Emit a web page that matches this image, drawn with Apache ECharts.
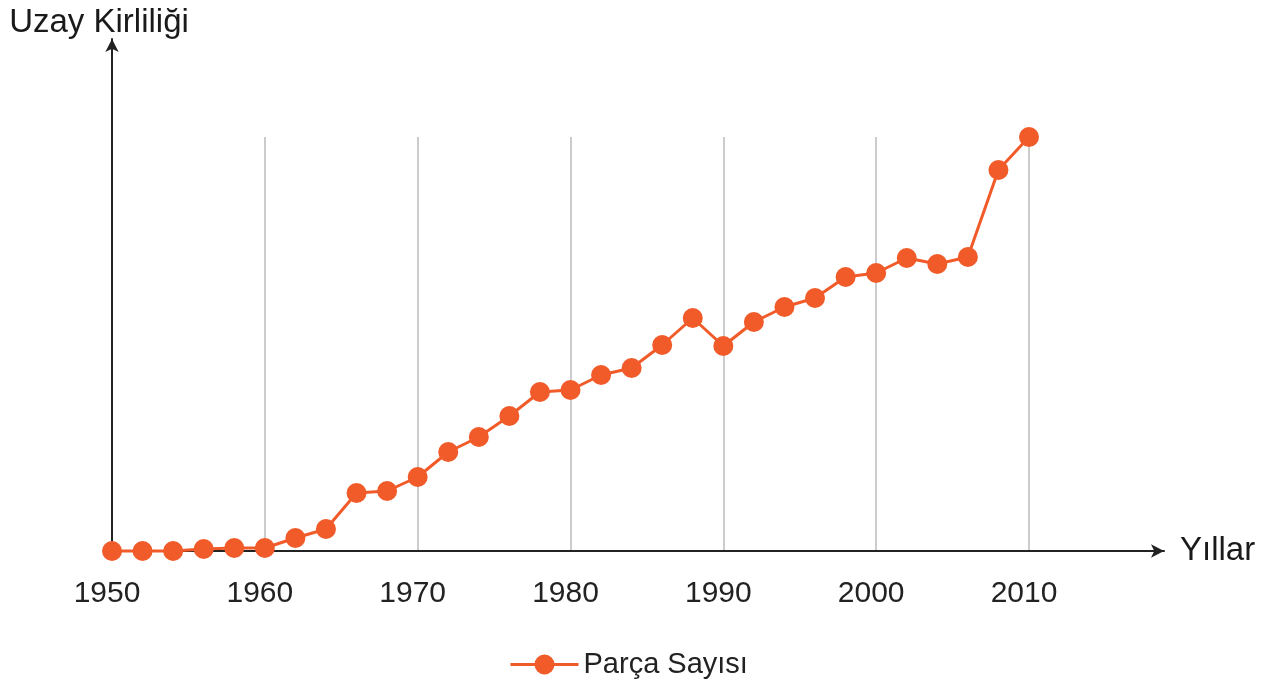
<!DOCTYPE html>
<html>
<head>
<meta charset="utf-8">
<title>Uzay Kirliliği</title>
<script src="https://cdn.jsdelivr.net/npm/echarts@6/dist/echarts.min.js"></script>
<style>
  html, body { margin: 0; padding: 0; background: #fff; }
  #chart { width: 1267px; height: 682px; }
</style>
</head>
<body>
<div id="chart"></div>
<script>
// yillar (2 yilda bir)
const years = [1950, 1952, 1954, 1956, 1958, 1960, 1962, 1964, 1966, 1968,
  1970, 1972, 1974, 1976, 1978, 1980, 1982, 1984, 1986, 1988,
  1990, 1992, 1994, 1996, 1998, 2000, 2002, 2004, 2006, 2008, 2010]
// parca sayisi (olceksiz)
const pieces = [0, 0, 0, 2, 3, 3, 13, 22, 58, 60,
  74, 99, 114, 135, 159, 161, 176, 183, 206, 233,
  205, 229, 244, 253, 274, 278, 293, 287, 294, 381, 414]
const seriesName = 'Parça Sayısı'
const yName = 'Uzay Kirliliği'
const xName = 'Yıllar'

const chart = echarts.init(document.getElementById('chart'))
const orange = '#f15a29'
const font = "'Liberation Sans', Arial, sans-serif"

chart.setOption({
  animation: false,
  textStyle: { fontFamily: font },
  legend: {
    data: [seriesName],
    left: 504,
    top: 645,
    itemWidth: 68,
    itemHeight: 25,
    itemGap: 5,
    lineStyle: { width: 3 },
    textStyle: { fontSize: 29, color: '#222', fontFamily: font }
  },
  grid: [
    // axes with arrows
    { left: 112, right: 103, top: 39, bottom: 131 },
    // plot area
    { left: 112, right: 238, top: 137, bottom: 131 }
  ],
  xAxis: [
    {
      gridIndex: 0,
      type: 'value',
      min: 0,
      max: 1,
      name: xName,
      nameLocation: 'end',
      nameGap: 16,
      nameTextStyle: { fontSize: 33, color: '#1a1a1a', fontFamily: font },
      axisLine: {
        show: true,
        symbol: ['none', 'arrow'],
        symbolSize: [10, 13],
        lineStyle: { color: '#222', width: 2 }
      },
      axisTick: { show: false },
      axisLabel: { show: false },
      splitLine: { show: false }
    },
    {
      gridIndex: 1,
      type: 'value',
      min: 1950,
      max: 2010,
      interval: 10,
      axisLine: { show: false },
      axisTick: { show: false },
      axisLabel: {
        margin: 28,
        fontSize: 30,
        color: '#222',
        fontFamily: font,
        padding: [0, 10, 0, 0],
        formatter: v => String(v)
      },
      splitLine: {
        show: true,
        showMinLine: false,
        lineStyle: { color: '#cccccc', width: 2 }
      }
    }
  ],
  yAxis: [
    {
      gridIndex: 0,
      type: 'value',
      min: 0,
      max: 1,
      name: yName,
      nameLocation: 'end',
      nameGap: 0,
      nameTextStyle: { fontSize: 33, color: '#1a1a1a', fontFamily: font, padding: [0, 26, 0, 0] },
      axisLine: {
        show: true,
        symbol: ['none', 'arrow'],
        symbolSize: [10, 13],
        lineStyle: { color: '#222', width: 2 }
      },
      axisTick: { show: false },
      axisLabel: { show: false },
      splitLine: { show: false }
    },
    {
      gridIndex: 1,
      type: 'value',
      min: 0,
      max: 414,
      show: false,
      splitLine: { show: false }
    }
  ],
  series: [{
    name: seriesName,
    type: 'line',
    xAxisIndex: 1,
    yAxisIndex: 1,
    data: years.map((y, i) => [y, pieces[i]]),
    clip: false,
    symbol: 'circle',
    symbolSize: 20,
    lineStyle: { color: orange, width: 3 },
    itemStyle: { color: orange },
    z: 5
  }]
})
</script>
</body>
</html>
